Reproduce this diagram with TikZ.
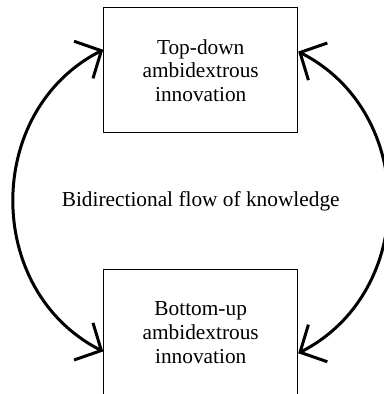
\documentclass[tikz,border=0pt]{standalone}
\usepackage{fontspec}
\setmainfont{Liberation Serif}
\usetikzlibrary{arrows.meta}
\begin{document}
\begin{tikzpicture}[x=0.6pt,y=0.6pt,
  box/.style={draw=black, line width=0.6pt, minimum width=116.4pt, minimum height=75pt, align=center, font=\fontsize{12.8}{14.2}\selectfont},
  flow/.style={line width=1.8pt, {Straight Barb[length=12pt,width=25pt]}-{Straight Barb[length=12pt,width=25pt]}}]
\useasboundingbox (0,0) rectangle (384,394);
\node [box] (top) at (200.7,323.5) {Top-down\\ambidextrous\\innovation};
\node [box] (bottom) at (200.7,61.5) {Bottom-up\\ambidextrous\\innovation};
\node [font=\fontsize{12.8}{14.2}\selectfont] (knowledge) at (200.7,193) {Bidirectional flow of knowledge};
\draw [flow] (top.168.6) to[out=207, in=153, looseness=1.14] (bottom.191.7);
\draw [flow] (top.11.4) to[out=-27, in=27, looseness=1.14] (bottom.348.3);
\end{tikzpicture}
\end{document}
